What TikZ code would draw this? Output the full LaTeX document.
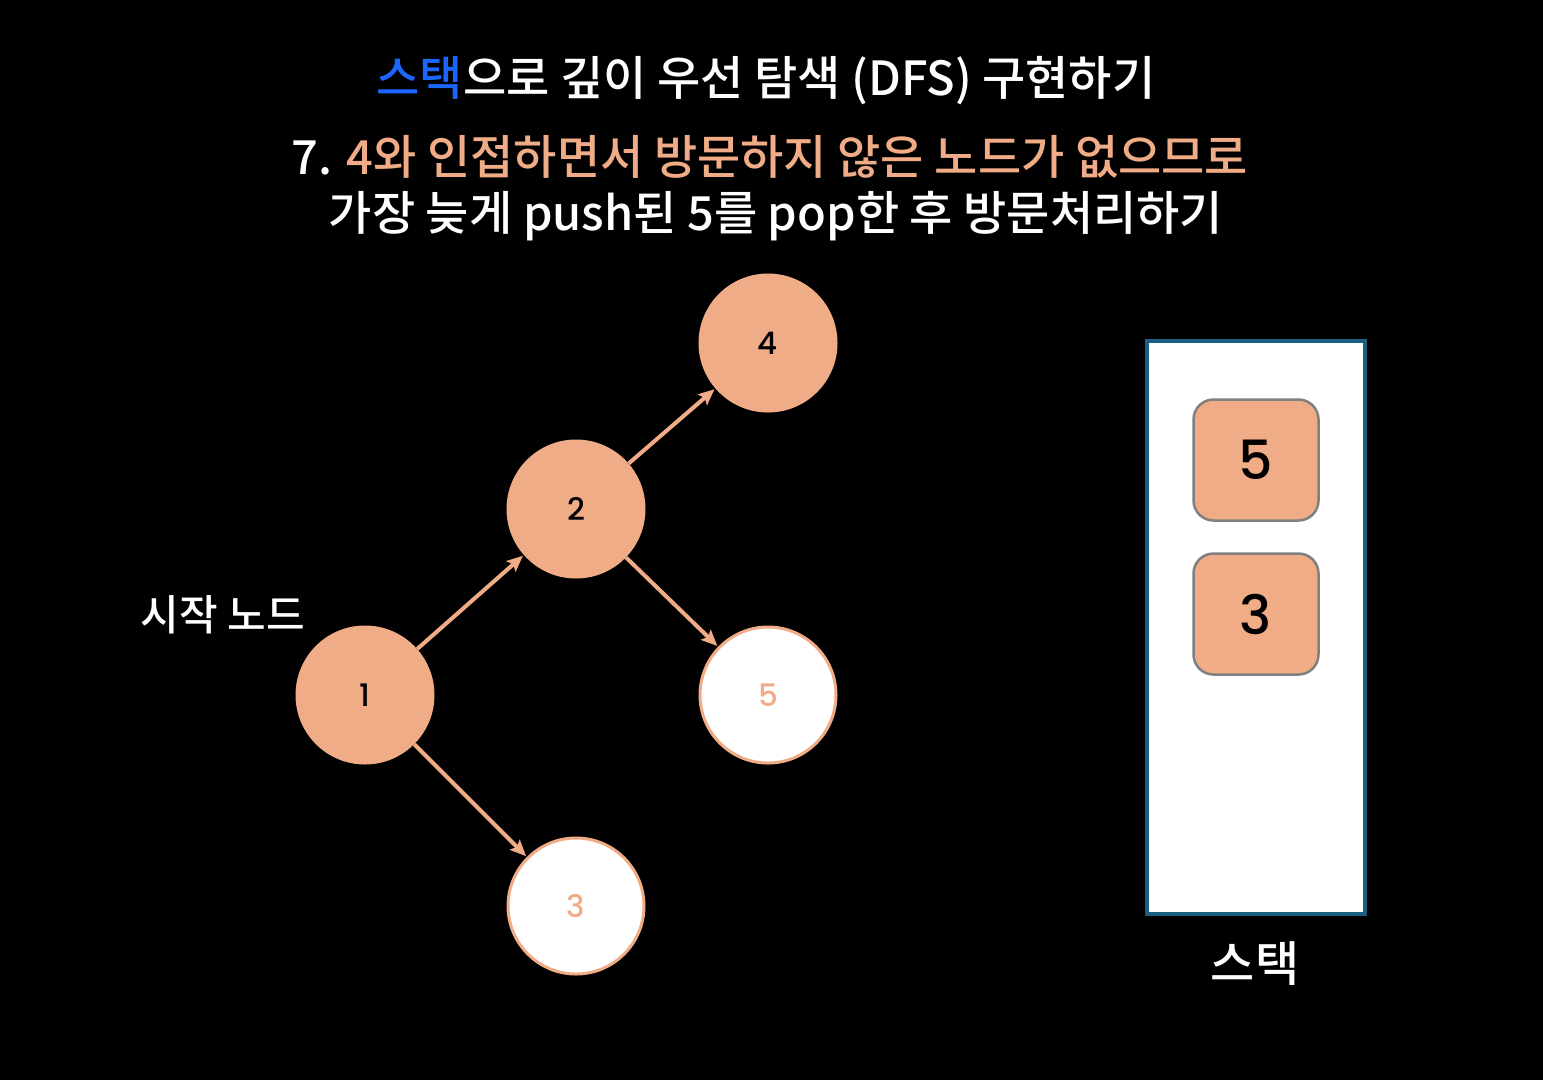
\documentclass[tikz,border=0pt]{standalone}
\usepackage{fontspec}
\setmainfont{Noto Sans CJK KR}[UprightFont=* Medium]
\newfontfamily\digitfont{Poppins}[UprightFont=* Medium]
\usetikzlibrary{arrows.meta}
\definecolor{colSalmon}{HTML}{F0AC86}
\definecolor{colBlue}{HTML}{1A66FF}
\definecolor{colStackLine}{HTML}{1B5E80}
\definecolor{colItemLine}{HTML}{808080}
\begin{document}
\begin{tikzpicture}[x=1pt, y=-1pt, >={Stealth[length=16pt, width=14pt, inset=3pt]},
    visited/.style={circle, fill=colSalmon, minimum size=139pt, inner sep=0pt,
      font=\digitfont\fontsize{31}{31}\selectfont},
    pushed/.style={circle, fill=white, draw=colSalmon, line width=3pt,
      minimum size=136pt, inner sep=0pt, text=colSalmon,
      font=\digitfont\fontsize{31}{31}\selectfont},
    edge/.style={->, draw=colSalmon, line width=4pt, shorten >=1pt},
    stackitem/.style={rectangle, rounded corners=20pt, fill=colSalmon,
      draw=colItemLine, line width=2.5pt, minimum width=125pt,
      minimum height=121pt, font=\digitfont\fontsize{54}{54}\selectfont},
    titletext/.style={text=white, font=\fontsize{47}{55}\selectfont}]
  \useasboundingbox[fill=black] (0,0) rectangle (1543,1080);

  % Titles
  \node[titletext] (title) at (766,81) {\textcolor{colBlue}{스택}으로 깊이 우선 탐색 (DFS) 구현하기};
  \node[titletext] (step) at (770,157) {7. \textcolor{colSalmon}{4와 인접하면서 방문하지 않은 노드가 없으므로}};
  \node[titletext] (stepb) at (776,216) {가장 늦게 push된 5를 pop한 후 방문처리하기};

  % Graph
  \node[visited] (n1) at (365,695) {1};
  \node[visited] (n2) at (576,509) {2};
  \node[visited] (n4) at (768,343) {4};
  \node[pushed] (n5) at (768,695) {5};
  \node[pushed] (n3) at (576,906) {3};
  \node[text=white, font=\fontsize{42}{50}\selectfont] (start) at (223,615) {시작 노드};

  \draw[edge] (n1) -- (n2);
  \draw[edge] (n2) -- (n4);
  \draw[edge] (n2) -- (n5);
  \draw[edge] (n1) -- (n3);

  % Stack
  \draw[draw=colStackLine, fill=white, line width=4pt] (1147,341) rectangle (1365,914);
  \node[stackitem] (s5) at (1256,460) {5};
  \node[stackitem] (s3) at (1256,614) {3};
  \node[titletext, font=\fontsize{48}{56}\selectfont] (stacklabel) at (1255,964) {스택};
\end{tikzpicture}
\end{document}
